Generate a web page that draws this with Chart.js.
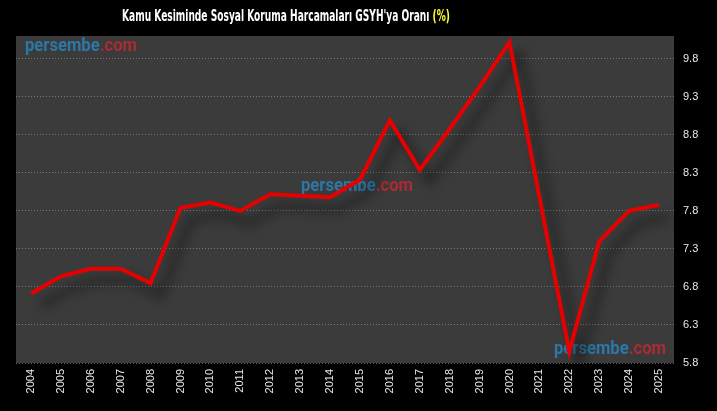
<!DOCTYPE html>
<html>
<head>
    <title>Kamu Kesiminde Sosyal Koruma Harcamaları</title>
    <script src="https://cdn.jsdelivr.net/npm/chart.js"></script>
    <style>
        html, body { margin: 0; padding: 0; background: #000; }
        #wrap { width: 717px; height: 411px; }
    </style>
</head>
<body>
<div id="wrap"><canvas id="myChart" width="717" height="411"></canvas></div>
<script>
    // data
    var years = ['2004','2005','2006','2007','2008','2009','2010','2011','2012','2013','2014',
                 '2015','2016','2017','2018','2019','2020','2021','2022','2023','2024','2025'];
    var ratio = [6.71, 6.94, 7.04, 7.04, 6.85, 7.84, 7.91, 7.80, 8.02, 8.00, 7.98,
                 8.21, 8.99, 8.34, 8.88, 9.43, 10.02, 7.98, 5.95, 7.40, 7.80, 7.88];
    var yTicks = [5.8, 6.3, 6.8, 7.3, 7.8, 8.3, 8.8, 9.3, 9.8];

    var titleText = "Kamu Kesiminde Sosyal Koruma Harcamaları GSYH'ya Oranı ";
    var titleUnit = '(%)';

    // background + plot area fill
    var bgPlugin = {
        id: 'bg',
        beforeDraw: function (chart) {
            var ctx = chart.ctx, a = chart.chartArea;
            ctx.save();
            ctx.fillStyle = '#000';
            ctx.fillRect(0, 0, chart.width, chart.height);
            ctx.fillStyle = '#3b3b3b';
            ctx.fillRect(a.left, a.top, a.right - a.left, a.bottom - a.top);
            ctx.restore();
        }
    };

    // two-colour title
    var titlePlugin = {
        id: 'twoColorTitle',
        afterDraw: function (chart) {
            var ctx = chart.ctx;
            ctx.save();
            ctx.font = 'bold 15px "DejaVu Sans Condensed", "DejaVu Sans", sans-serif';
            ctx.textBaseline = 'middle';
            var w1 = ctx.measureText(titleText).width;
            var w2 = ctx.measureText(titleUnit).width;
            var sx = 328 / (w1 + w2);
            ctx.translate(122, 17);
            ctx.scale(sx, 1);
            ctx.fillStyle = '#ffffff';
            ctx.fillText(titleText, 0, 0);
            ctx.fillStyle = '#ffff33';
            ctx.fillText(titleUnit, w1, 0);
            ctx.restore();
        }
    };

    // site watermark, drawn under the line
    function mark(ctx, x, y) {
        ctx.save();
        ctx.font = 'bold 18px Roboto, "Liberation Sans", sans-serif';
        ctx.textBaseline = 'alphabetic';
        var a = 'persembe', b = '.com';
        var wa = ctx.measureText(a).width, wb = ctx.measureText(b).width;
        var sx = 112 / (wa + wb);
        ctx.translate(x, y);
        ctx.scale(sx, 1);
        ctx.fillStyle = 'rgba(40,135,195,0.8)';
        ctx.fillText(a, 0, 0);
        ctx.fillStyle = 'rgba(200,40,50,0.8)';
        ctx.fillText(b, wa, 0);
        ctx.restore();
    }
    var markPlugin = {
        id: 'watermark',
        beforeDatasetsDraw: function (chart) {
            var ctx = chart.ctx;
            mark(ctx, 25, 51);
            mark(ctx, 301, 191);
            mark(ctx, 554, 354);
        }
    };

    // blurred drop shadow under the line
    var shadowPlugin = {
        id: 'lineShadow',
        beforeDatasetDraw: function (chart) {
            var ctx = chart.ctx;
            ctx.save();
            ctx.shadowColor = 'rgba(0,0,0,0.65)';
            ctx.shadowBlur = 12;
            ctx.shadowOffsetX = 10;
            ctx.shadowOffsetY = 12;
        },
        afterDatasetDraw: function (chart) {
            chart.ctx.restore();
        }
    };

    var ctx = document.getElementById('myChart').getContext('2d');
    var myChart = new Chart(ctx, {
        type: 'line',
        data: {
            labels: years,
            datasets: [{
                label: 'GSYH oranı',
                data: ratio,
                borderColor: '#e60000',
                borderWidth: 4,
                pointRadius: 0,
                fill: false,
                tension: 0
            }]
        },
        options: {
            responsive: false,
            animation: false,
            layout: { padding: { top: 36, left: 16, right: 0, bottom: 0 } },
            plugins: {
                legend: { display: false },
                title: { display: false },
                tooltip: { enabled: false }
            },
            scales: {
                x: {
                    offset: true,
                    grid: { display: false, drawTicks: false },
                    border: { display: false },
                    ticks: {
                        color: '#e8e8e8',
                        font: { size: 11, family: 'Arial, "Liberation Sans", sans-serif' },
                        minRotation: 90,
                        maxRotation: 90,
                        autoSkip: false,
                        padding: 6
                    },
                    afterFit: function (s) { s.height = 48; }
                },
                y: {
                    position: 'right',
                    min: 5.8,
                    max: 10.1,
                    afterBuildTicks: function (s) {
                        s.ticks = yTicks.map(function (v) { return { value: v }; });
                    },
                    grid: {
                        color: 'rgba(160,160,160,0.6)',
                        lineWidth: 1,
                        drawTicks: false
                    },
                    border: { display: false, dash: [1, 2] },
                    ticks: {
                        color: '#e8e8e8',
                        font: { size: 11, family: 'Arial, "Liberation Sans", sans-serif' },
                        padding: 9,
                        callback: function (v) { return v.toFixed(1); }
                    },
                    afterFit: function (s) { s.width = 43; }
                }
            }
        },
        plugins: [bgPlugin, markPlugin, shadowPlugin, titlePlugin]
    });
</script>
</body>
</html>
